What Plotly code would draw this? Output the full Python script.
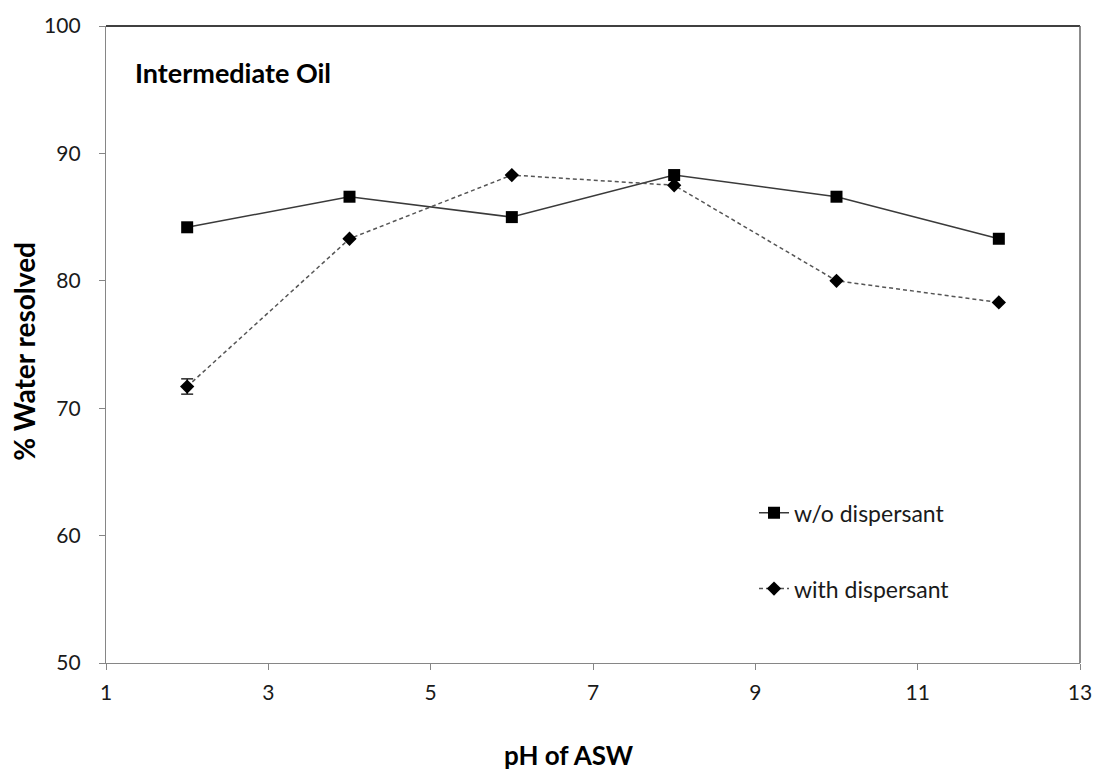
import plotly.graph_objects as go

# pH of the artificial seawater (ASW)
ph = [2, 4, 6, 8, 10, 12]

# % water resolved for the intermediate oil
without_dispersant = [84.2, 86.6, 85.0, 88.3, 86.6, 83.3]
with_dispersant = [71.7, 83.3, 88.3, 87.5, 80.0, 78.3]
with_dispersant_err = [0.6, 0, 0, 0, 0, 0]

x_ticks = [1, 3, 5, 7, 9, 11, 13]
y_ticks = [50, 60, 70, 80, 90, 100]

FONT = "Lato, 'Open Sans', sans-serif"

# plot-area geometry in pixels
W, H = 1104, 771
L, R, T, B = 106, 15, 22, 108
PW, PH = W - L - R, H - T - B


def px_x(p):
    return (p - L) / PW


def px_y(p):
    return (H - B - p) / PH


fig = go.Figure()

fig.add_trace(go.Scatter(
    x=ph, y=without_dispersant, name="w/o dispersant",
    mode="lines+markers",
    line=dict(color="#3a3a3a", width=1.5),
    marker=dict(symbol="square", size=12, color="black"),
    legendgroup="a",
))

fig.add_trace(go.Scatter(
    x=ph, y=with_dispersant, name="with dispersant",
    mode="lines+markers",
    line=dict(color="#555555", width=1.5, dash="4px,3px"),
    marker=dict(symbol="diamond", size=11, color="black"),
    error_y=dict(type="data", array=with_dispersant_err, visible=True,
                 color="black", thickness=1.2, width=6),
    legendgroup="b",
))

axis_common = dict(
    showgrid=False, zeroline=False,
    showline=True, linecolor="#868686", linewidth=1.3,
    ticks="outside", ticklen=6, tickcolor="#868686", tickwidth=1.3,
    tickfont=dict(family=FONT, size=21, color="#1a1a1a"),
)

fig.update_xaxes(range=[1, 13], tickvals=x_ticks, ticklabelstandoff=5, **axis_common)
fig.update_yaxes(range=[50, 100], tickvals=y_ticks, ticklabelstandoff=14, **axis_common)

fig.update_layout(
    width=W, height=H,
    margin=dict(l=L, r=R, t=T, b=B),
    paper_bgcolor="white", plot_bgcolor="white",
    font=dict(family=FONT, color="#1a1a1a"),
    showlegend=True,
    legend=dict(
        x=px_x(760), y=px_y(550), xanchor="left", yanchor="middle",
        font=dict(family=FONT, size=23, color="#1a1a1a"),
        traceorder="grouped", tracegroupgap=43,
        bgcolor="rgba(0,0,0,0)",
    ),
    shapes=[
        # plot-area border along the top and right
        dict(type="line", xref="paper", yref="paper", x0=0, x1=1, y0=1, y1=1,
             line=dict(color="black", width=1.5)),
        dict(type="line", xref="paper", yref="paper", x0=1, x1=1, y0=0, y1=1,
             line=dict(color="#666666", width=1.5)),
    ],
    annotations=[
        dict(text="<b>Intermediate Oil</b>", xref="paper", yref="paper",
             x=px_x(133), y=px_y(69), xanchor="left", yanchor="middle", showarrow=False,
             font=dict(family=FONT, size=27, color="black")),
        dict(text="<b>pH of ASW</b>", xref="paper", yref="paper",
             x=px_x(573), y=px_y(756),
             xanchor="center", yanchor="middle", showarrow=False,
             font=dict(family=FONT, size=26, color="black")),
        dict(text="<b>% Water resolved</b>", xref="paper", yref="paper",
             x=px_x(23), y=px_y(349),
             xanchor="center", yanchor="middle", showarrow=False, textangle=-90,
             font=dict(family=FONT, size=28, color="black")),
    ],
)

fig.write_html("out.html")
